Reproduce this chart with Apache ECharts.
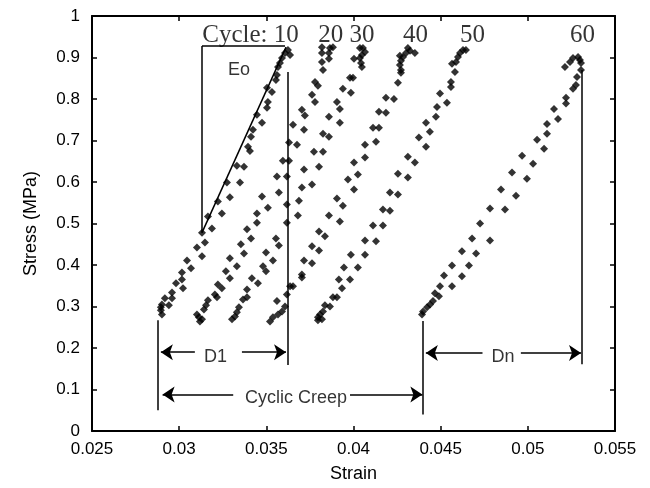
<!DOCTYPE html>
<html><head><meta charset="utf-8">
<script src="https://cdn.jsdelivr.net/npm/echarts@6/dist/echarts.min.js"></script>
<style>html,body{margin:0;padding:0;background:#fff}#c{width:650px;height:488px}</style>
</head><body><div id="c"></div>
<script>
// ---- data: [strain, stress (MPa)] ----
const cycle10 = [[0.03624,0.918],[0.03607,0.911],[0.03636,0.906],[0.0359,0.899],[0.03578,0.887],[0.03567,0.877],[0.03561,0.858],[0.03555,0.846],[0.03532,0.817],[0.03504,0.827],[0.03509,0.793],[0.03504,0.779],[0.03446,0.762],[0.03475,0.743],[0.03423,0.726],[0.03412,0.709],[0.03395,0.685],[0.03406,0.675],[0.03331,0.639],[0.03372,0.637],[0.03274,0.599],[0.03349,0.599],[0.03222,0.553],[0.03291,0.563],[0.03165,0.517],[0.03245,0.524],[0.03131,0.478],[0.03188,0.488],[0.03148,0.454],[0.03102,0.442],[0.03131,0.421],[0.03045,0.411],[0.03068,0.392],[0.03016,0.382],[0.03016,0.365],[0.02982,0.356],[0.03022,0.344],[0.02959,0.334],[0.02918,0.320],[0.02959,0.320],[0.02941,0.303],[0.02901,0.305],[0.02895,0.291],[0.02901,0.281],[0.02895,0.298]];
const cycle20 = [[0.03819,0.925],[0.03865,0.923],[0.03882,0.925],[0.03819,0.911],[0.03859,0.911],[0.03859,0.897],[0.03819,0.889],[0.03825,0.870],[0.03779,0.841],[0.03796,0.832],[0.03762,0.810],[0.03779,0.793],[0.03704,0.774],[0.03721,0.760],[0.03653,0.738],[0.03716,0.726],[0.0363,0.695],[0.03676,0.690],[0.03595,0.651],[0.0363,0.651],[0.03561,0.613],[0.03618,0.613],[0.03572,0.575],[0.03475,0.565],[0.03509,0.538],[0.03446,0.524],[0.03446,0.502],[0.03389,0.486],[0.03412,0.464],[0.03354,0.450],[0.03372,0.428],[0.03291,0.416],[0.03331,0.397],[0.03268,0.385],[0.03291,0.368],[0.03222,0.353],[0.03245,0.344],[0.03205,0.329],[0.03217,0.322],[0.03165,0.315],[0.03154,0.303],[0.03142,0.293],[0.03102,0.281],[0.03131,0.269],[0.03119,0.264],[0.03113,0.274]];
const cycle30 = [[0.04037,0.923],[0.04054,0.923],[0.04066,0.913],[0.04048,0.906],[0.04037,0.899],[0.04003,0.897],[0.04043,0.887],[0.04048,0.877],[0.0398,0.851],[0.03997,0.851],[0.03939,0.825],[0.03985,0.815],[0.03905,0.793],[0.03922,0.776],[0.03859,0.757],[0.03922,0.743],[0.03825,0.716],[0.03859,0.709],[0.03773,0.673],[0.03825,0.673],[0.03716,0.630],[0.03802,0.637],[0.03762,0.594],[0.03704,0.587],[0.03687,0.555],[0.03618,0.546],[0.03681,0.519],[0.03618,0.502],[0.03555,0.464],[0.03572,0.447],[0.03498,0.430],[0.03538,0.411],[0.03481,0.397],[0.03498,0.385],[0.03417,0.368],[0.03452,0.356],[0.03389,0.341],[0.03389,0.322],[0.03366,0.317],[0.03343,0.298],[0.03331,0.286],[0.03303,0.269],[0.0332,0.276]];
const cycle40 = [[0.04312,0.923],[0.04324,0.916],[0.04352,0.911],[0.04301,0.911],[0.04284,0.901],[0.04266,0.904],[0.04272,0.892],[0.04266,0.882],[0.04272,0.870],[0.04272,0.863],[0.04255,0.839],[0.04186,0.803],[0.04232,0.800],[0.04146,0.769],[0.04186,0.767],[0.04112,0.731],[0.04146,0.731],[0.04066,0.690],[0.04129,0.697],[0.04003,0.647],[0.04066,0.659],[0.03968,0.606],[0.04025,0.618],[0.04003,0.582],[0.03905,0.560],[0.03939,0.543],[0.03859,0.519],[0.03922,0.505],[0.03802,0.481],[0.03836,0.469],[0.03762,0.445],[0.03802,0.435],[0.03716,0.411],[0.03762,0.404],[0.03704,0.377],[0.03704,0.370],[0.03653,0.349],[0.03636,0.349],[0.03618,0.329],[0.03561,0.313],[0.03607,0.300],[0.0359,0.288],[0.03567,0.281],[0.03538,0.274],[0.03521,0.264]];
const cycle50 = [[0.04628,0.918],[0.04645,0.918],[0.04611,0.911],[0.04599,0.901],[0.04588,0.889],[0.04565,0.885],[0.04582,0.865],[0.04559,0.841],[0.04559,0.829],[0.04496,0.813],[0.04536,0.791],[0.04479,0.781],[0.04473,0.757],[0.04416,0.743],[0.04438,0.721],[0.04375,0.707],[0.04416,0.685],[0.04312,0.661],[0.04352,0.647],[0.04255,0.620],[0.04312,0.611],[0.04209,0.575],[0.04255,0.570],[0.04169,0.534],[0.04209,0.531],[0.04112,0.495],[0.04169,0.495],[0.04066,0.459],[0.04129,0.457],[0.03985,0.425],[0.04066,0.425],[0.03945,0.394],[0.04025,0.394],[0.03916,0.365],[0.0398,0.365],[0.03934,0.344],[0.03882,0.322],[0.03905,0.322],[0.03836,0.303],[0.03865,0.300],[0.03825,0.288],[0.03808,0.281],[0.03796,0.274],[0.03819,0.269],[0.03796,0.267]];
const cycle60 = [[0.05213,0.877],[0.05242,0.889],[0.05259,0.899],[0.05288,0.901],[0.05299,0.894],[0.05305,0.887],[0.05305,0.870],[0.05282,0.853],[0.05276,0.834],[0.05259,0.825],[0.05219,0.803],[0.05219,0.789],[0.0515,0.776],[0.05173,0.752],[0.0511,0.740],[0.0511,0.716],[0.05053,0.702],[0.05093,0.680],[0.04967,0.663],[0.0503,0.644],[0.04909,0.623],[0.04995,0.608],[0.04846,0.582],[0.04932,0.567],[0.04783,0.536],[0.04869,0.534],[0.04726,0.500],[0.0468,0.464],[0.04783,0.459],[0.04622,0.433],[0.04703,0.428],[0.04565,0.399],[0.04662,0.399],[0.04622,0.373],[0.04519,0.375],[0.04565,0.349],[0.04496,0.349],[0.04467,0.332],[0.0449,0.325],[0.04456,0.313],[0.04439,0.305],[0.04422,0.298],[0.04399,0.288],[0.04393,0.281]];

// cycle labels
const cycleLabels = ['Cycle: 10','20','30','40','50','60'];
const cycleLabelX = [0.03409,0.0387,0.04049,0.04356,0.04683,0.05314];
const cycleLabelY = [0.952,0.952,0.952,0.952,0.952,0.952];

// annotation segments [[x1,y1],[x2,y2]]
const guideLines = [
  [[0.0288,0.05],[0.0288,0.267]],
  [[0.0362,0.159],[0.0362,0.865]],
  [[0.0440,0.04],[0.0440,0.265]],
  [[0.0531,0.161],[0.0531,0.870]],
  [[0.03131,0.478],[0.03131,0.928]],
  [[0.03131,0.928],[0.03607,0.928]],
  [[0.03131,0.478],[0.03613,0.925]]
];
// arrows: from inner end to tip
const arrowLines = [
  [[0.0309,0.19],[0.02895,0.19]],
  [[0.0336,0.19],[0.03613,0.19]],
  [[0.0331,0.088],[0.02905,0.088]],
  [[0.0398,0.088],[0.04395,0.088]],
  [[0.0474,0.188],[0.04415,0.188]],
  [[0.0496,0.188],[0.05305,0.188]]
];
const annoText = ['Eo','D1','Cyclic Creep','Dn'];
const annoX = [0.03343,0.03208,0.0367,0.04857];
const annoY = [0.871,0.178,0.080,0.178];

const sans = 'Liberation Sans';
const serif = 'Liberation Serif';
const chart = echarts.init(document.getElementById('c'));

function xAx(pos, main){
  return {type:'value',min:0.025,max:0.055,interval:0.005,position:pos,
    name: main?'Strain':'', nameLocation:'middle', nameGap:34,
    nameTextStyle:{fontSize:18,color:'#000',fontFamily:sans},
    axisLine:{show:true,onZero:false,lineStyle:{color:'#000',width:2}},
    axisTick:{show:true,inside:true,length:5,lineStyle:{color:'#000',width:1.5}},
    axisLabel:{show:main,color:'#000',fontSize:17,fontFamily:sans,margin:10,showMinLabel:true,showMaxLabel:true},
    splitLine:{show:false}};
}
function yAx(pos, main){
  return {type:'value',min:0,max:1,interval:0.1,position:pos,
    name: main?'Stress (MPa)':'', nameLocation:'middle', nameGap:52, nameRotate:90,
    nameTextStyle:{fontSize:18,color:'#000',fontFamily:sans},
    axisLine:{show:true,onZero:false,lineStyle:{color:'#000',width:2}},
    axisTick:{show:true,inside:true,length:5,lineStyle:{color:'#000',width:1.5}},
    axisLabel:{show:main,color:'#000',fontSize:17,fontFamily:sans,margin:12,showMinLabel:true,showMaxLabel:true},
    splitLine:{show:false}};
}

const cycles = [cycle10,cycle20,cycle30,cycle40,cycle50,cycle60];
const series = cycles.map(d=>({type:'scatter',data:d,symbol:'diamond',symbolSize:8,
  itemStyle:{color:'#000'},silent:true,z:3}));

series.push({type:'lines',coordinateSystem:'cartesian2d',silent:true,z:2,
  lineStyle:{color:'#000',width:1.5,opacity:1},
  data:guideLines.map(c=>({coords:c}))});
series.push({type:'lines',coordinateSystem:'cartesian2d',silent:true,z:2,
  symbol:['none','arrow'],symbolSize:12,
  lineStyle:{color:'#000',width:1.5,opacity:1},
  data:arrowLines.map(c=>({coords:c}))});
series.push({type:'scatter',silent:true,symbolSize:1,itemStyle:{color:'rgba(0,0,0,0)'},z:4,
  data:cycleLabels.map((t,i)=>({name:t,value:[cycleLabelX[i],cycleLabelY[i]]})),
  label:{show:true,position:'inside',formatter:'{b}',color:'#000',fontFamily:serif,fontSize:25,align:'center',verticalAlign:'middle'}});
series.push({type:'scatter',silent:true,symbolSize:1,itemStyle:{color:'rgba(0,0,0,0)'},z:4,
  data:annoText.map((t,i)=>({name:t,value:[annoX[i],annoY[i]]})),
  label:{show:true,position:'inside',formatter:'{b}',color:'#000',fontFamily:sans,fontSize:18,align:'center',verticalAlign:'middle',backgroundColor:'#fff',padding:[0,2]}});

chart.setOption({
  animation:false,
  backgroundColor:'#fff',
  grid:{left:92,right:35,top:16,bottom:56},
  xAxis:[xAx('bottom',true),xAx('top',false)],
  yAxis:[yAx('left',true),yAx('right',false)],
  series:series
});
</script></body></html>
